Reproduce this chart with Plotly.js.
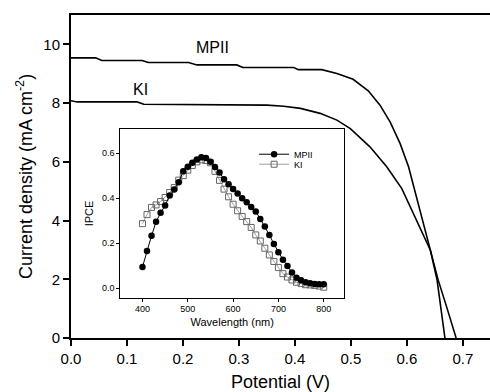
<!DOCTYPE html>
<html>
<head>
<meta charset="utf-8">
<script src="https://cdn.plot.ly/plotly-3.0.1.min.js"></script>
<style>
html,body{margin:0;padding:0;background:#fff;}
#chart{width:490px;height:392px;}
</style>
</head>
<body>
<div id="chart"></div>
<script>
// Main J-V curves
const mpiiV = [0, 0.044, 0.055, 0.127, 0.138, 0.21, 0.225, 0.296, 0.307, 0.398, 0.406, 0.448, 0.475, 0.504, 0.531, 0.552, 0.570, 0.588, 0.603, 0.611, 0.624, 0.642, 0.656, 0.671, 0.688];
const mpiiJ = [9.54, 9.54, 9.45, 9.45, 9.38, 9.38, 9.30, 9.30, 9.21, 9.21, 9.14, 9.14, 9.01, 8.81, 8.42, 7.93, 7.36, 6.62, 5.83, 5.25, 4.24, 2.99, 1.97, 1.06, 0.0];
const kiV = [0, 0.011, 0.118, 0.130, 0.35, 0.38, 0.41, 0.445, 0.475, 0.499, 0.534, 0.564, 0.591, 0.612, 0.642, 0.654, 0.661, 0.668];
const kiJ = [8.08, 8.04, 8.04, 7.96, 7.93, 7.89, 7.82, 7.65, 7.42, 7.13, 6.51, 5.83, 5.09, 4.24, 2.99, 1.97, 1.06, 0.0];

// Inset IPCE spectra
const wavelength = [400,410,420,430,440,450,460,470,480,490,500,510,520,530,540,550,560,570,580,590,600,610,620,630,640,650,660,670,680,690,700,710,720,730,740,750,760,770,780,790,800];
const ipceMPII = [0.095,0.166,0.233,0.295,0.335,0.367,0.412,0.438,0.471,0.519,0.539,0.557,0.572,0.581,0.578,0.561,0.538,0.514,0.484,0.462,0.441,0.421,0.400,0.382,0.361,0.341,0.308,0.274,0.237,0.197,0.160,0.127,0.099,0.070,0.047,0.036,0.027,0.022,0.019,0.018,0.018];
const ipceKI = [0.287,0.327,0.359,0.370,0.385,0.403,0.425,0.447,0.480,0.500,0.524,0.545,0.561,0.570,0.567,0.557,0.519,0.479,0.440,0.406,0.373,0.344,0.319,0.296,0.270,0.237,0.210,0.178,0.148,0.119,0.092,0.065,0.050,0.037,0.027,0.021,0.016,0.015,0.013,0.010,0.005];

const seriesNames = ['MPII', 'KI'];
const mainTicks = [0, 2, 4, 6, 8, 10];
const insetXTicks = [400, 500, 600, 700, 800];
const insetYTicks = [0.0, 0.2, 0.4, 0.6];

const font = 'Arial, "Liberation Sans", Helvetica, sans-serif';

const traces = [
  {x: mpiiV, y: mpiiJ, mode: 'lines', line: {color: '#000', width: 1.6}, showlegend: false, hoverinfo: 'skip', xaxis: 'x', yaxis: 'y'},
  {x: kiV, y: kiJ, mode: 'lines', line: {color: '#000', width: 1.6}, showlegend: false, hoverinfo: 'skip', xaxis: 'x', yaxis: 'y'},
  {x: wavelength, y: ipceKI, name: seriesNames[1], mode: 'lines+markers', line: {color: '#888', width: 0.8},
   marker: {symbol: 'square-open', size: 6, color: '#666', line: {width: 1, color: '#666'}}, xaxis: 'x2', yaxis: 'y2', legend: 'legend2'},
  {x: wavelength, y: ipceMPII, name: seriesNames[0], mode: 'lines+markers', line: {color: '#000', width: 1},
   marker: {symbol: 'circle', size: 6.5, color: '#000'}, xaxis: 'x2', yaxis: 'y2', legend: 'legend'}
];

const layout = {
  width: 490, height: 392,
  margin: {l: 71, r: 0, t: 15, b: 54},
  paper_bgcolor: '#fff', plot_bgcolor: 'rgba(0,0,0,0)',
  font: {family: font, color: '#000'},
  xaxis: {
    domain: [0, 1], range: [0, 0.7485], tickvals: [0,0.1,0.2,0.3,0.4,0.5,0.6,0.7], tickformat: '.1f',
    showgrid: false, zeroline: false, showline: true, linewidth: 2, linecolor: '#000', mirror: true,
    ticks: 'outside', ticklen: 6, tickwidth: 2, tickcolor: '#000',
    tickfont: {size: 15, family: font},
    title: {text: 'Potential (V)', font: {size: 18, family: font}, standoff: 13}
  },
  yaxis: {
    domain: [0, 1], range: [0, 11], tickvals: mainTicks,
    showgrid: false, zeroline: false, showline: true, linewidth: 2, linecolor: '#000',
    ticks: 'outside', ticklen: 6, tickwidth: 2, tickcolor: '#000',
    tickfont: {size: 15, family: font},
    title: {text: 'Current density (mA cm<sup>-2</sup>)', font: {size: 18, family: font}, standoff: 6}
  },
  xaxis2: {
    domain: [0.1176, 0.6518], anchor: 'y2', range: [351, 845], tickvals: insetXTicks,
    showgrid: false, zeroline: false, showline: true, linewidth: 1, linecolor: '#000', mirror: true,
    ticks: 'outside', ticklen: 3, tickwidth: 1, tickcolor: '#000',
    tickfont: {size: 9, family: font},
    title: {text: 'Wavelength (nm)', font: {size: 11, family: font}, standoff: 4}
  },
  yaxis2: {
    domain: [0.1252, 0.6458], anchor: 'x2', range: [-0.041, 0.705], tickvals: insetYTicks, tickformat: '.1f',
    showgrid: false, zeroline: false, showline: true, linewidth: 1, linecolor: '#000', mirror: true,
    ticks: 'outside', ticklen: 3, tickwidth: 1, tickcolor: '#000',
    tickfont: {size: 9, family: font},
    title: {text: 'IPCE', font: {size: 11, family: font}, standoff: 6}
  },
  legend: {x: 0.437, y: 0.569, xanchor: 'left', yanchor: 'middle', bgcolor: 'rgba(0,0,0,0)', font: {size: 9, family: font}, itemwidth: 30},
  legend2: {x: 0.437, y: 0.538, xanchor: 'left', yanchor: 'middle', bgcolor: 'rgba(0,0,0,0)', font: {size: 9, family: font}, itemwidth: 30},
  annotations: [
    {x: 0.252, y: 9.89, xref: 'x', yref: 'y', text: seriesNames[0], showarrow: false, font: {size: 16, family: font}},
    {x: 0.124, y: 8.47, xref: 'x', yref: 'y', text: seriesNames[1], showarrow: false, font: {size: 16, family: font}}
  ]
};

Plotly.newPlot('chart', traces, layout, {staticPlot: true, displayModeBar: false});
</script>
</body>
</html>
